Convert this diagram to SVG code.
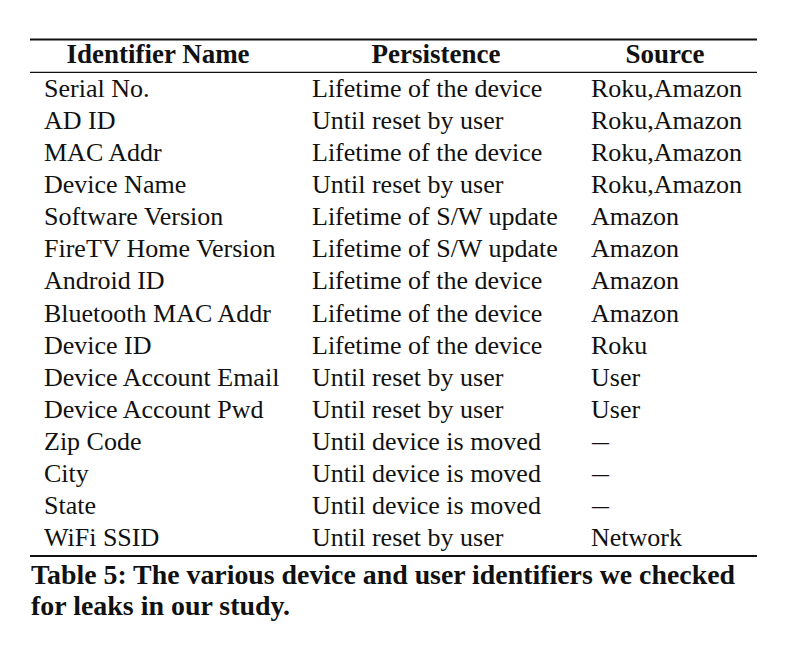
<svg xmlns="http://www.w3.org/2000/svg" width="790" height="648" viewBox="0 0 790 648">
<style>
text{font-family:"Liberation Serif","DejaVu Serif",serif;fill:#111;}
.b{font-size:26px;}
.h{font-size:27px;font-weight:bold;text-anchor:middle;}
.cap{font-size:27px;font-weight:bold;}
.rule{stroke:#111;}
</style>
<rect width="790" height="648" fill="#fff"/>
<g id="rules">
<line class="rule" x1="30" y1="39.5" x2="757" y2="39.5" stroke-width="1.8"/>
<line class="rule" x1="30" y1="72.3" x2="757" y2="72.3" stroke-width="1.2"/>
<line class="rule" x1="30" y1="556" x2="757" y2="556" stroke-width="1.8"/>
</g>
<g id="header">
<text class="h" x="158" y="63">Identifier Name</text>
<text class="h" x="436" y="63">Persistence</text>
<text class="h" x="665" y="63">Source</text>
</g>
<g id="rows" class="b">
<g id="r1"><text class="b" x="44" y="97">Serial No.</text><text class="b" x="312" y="97">Lifetime of the device</text><text class="b" x="591" y="97">Roku,Amazon</text></g>
<g id="r2"><text class="b" x="44" y="129.1">AD ID</text><text class="b" x="312" y="129.1">Until reset by user</text><text class="b" x="591" y="129.1">Roku,Amazon</text></g>
<g id="r3"><text class="b" x="44" y="161.1">MAC Addr</text><text class="b" x="312" y="161.1">Lifetime of the device</text><text class="b" x="591" y="161.1">Roku,Amazon</text></g>
<g id="r4"><text class="b" x="44" y="193.2">Device Name</text><text class="b" x="312" y="193.2">Until reset by user</text><text class="b" x="591" y="193.2">Roku,Amazon</text></g>
<g id="r5"><text class="b" x="44" y="225.3">Software Version</text><text class="b" x="312" y="225.3">Lifetime of S/W update</text><text class="b" x="591" y="225.3">Amazon</text></g>
<g id="r6"><text class="b" x="44" y="257.4">FireTV Home Version</text><text class="b" x="312" y="257.4">Lifetime of S/W update</text><text class="b" x="591" y="257.4">Amazon</text></g>
<g id="r7"><text class="b" x="44" y="289.4">Android ID</text><text class="b" x="312" y="289.4">Lifetime of the device</text><text class="b" x="591" y="289.4">Amazon</text></g>
<g id="r8"><text class="b" x="44" y="321.5">Bluetooth MAC Addr</text><text class="b" x="312" y="321.5">Lifetime of the device</text><text class="b" x="591" y="321.5">Amazon</text></g>
<g id="r9"><text class="b" x="44" y="353.6">Device ID</text><text class="b" x="312" y="353.6">Lifetime of the device</text><text class="b" x="591" y="353.6">Roku</text></g>
<g id="r10"><text class="b" x="44" y="385.6">Device Account Email</text><text class="b" x="312" y="385.6">Until reset by user</text><text class="b" x="591" y="385.6">User</text></g>
<g id="r11"><text class="b" x="44" y="417.7">Device Account Pwd</text><text class="b" x="312" y="417.7">Until reset by user</text><text class="b" x="591" y="417.7">User</text></g>
<g id="r12"><text class="b" x="44" y="449.8">Zip Code</text><text class="b" x="312" y="449.8">Until device is moved</text><text class="b" x="592" y="449.8" textLength="17" lengthAdjust="spacingAndGlyphs">—</text></g>
<g id="r13"><text class="b" x="44" y="481.8">City</text><text class="b" x="312" y="481.8">Until device is moved</text><text class="b" x="592" y="481.8" textLength="17" lengthAdjust="spacingAndGlyphs">—</text></g>
<g id="r14"><text class="b" x="44" y="513.9">State</text><text class="b" x="312" y="513.9">Until device is moved</text><text class="b" x="592" y="513.9" textLength="17" lengthAdjust="spacingAndGlyphs">—</text></g>
<g id="r15"><text class="b" x="44" y="546">WiFi SSID</text><text class="b" x="312" y="546">Until reset by user</text><text class="b" x="591" y="546">Network</text></g>
</g>
<g id="caption">
<text class="cap" x="31" y="584" textLength="704" lengthAdjust="spacingAndGlyphs">Table 5: The various device and user identifiers we checked</text>
<text class="cap" x="31" y="615" textLength="259" lengthAdjust="spacingAndGlyphs">for leaks in our study.</text>
</g>
</svg>
